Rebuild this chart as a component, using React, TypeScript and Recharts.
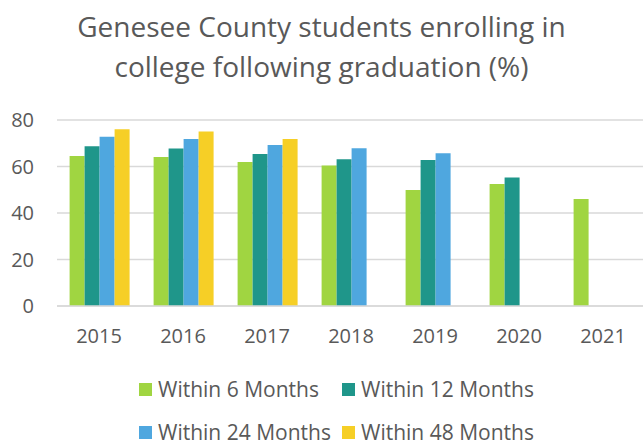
import { BarChart, Bar, XAxis, YAxis, CartesianGrid } from 'recharts'

const years = ['2015', '2016', '2017', '2018', '2019', '2020', '2021']
const within6 = [64.5, 64.1, 61.9, 60.4, 49.9, 52.5, 46.0]
const within12 = [68.7, 67.7, 65.4, 63.1, 62.8, 55.3, null]
const within24 = [72.8, 71.8, 69.2, 67.8, 65.7, null, null]
const within48 = [76.0, 75.1, 71.8, null, null, null, null]
const yTicks = [0, 20, 40, 60, 80]

const SERIES = [
  { key: 'w6', name: 'Within 6 Months', color: '#a0d541' },
  { key: 'w12', name: 'Within 12 Months', color: '#1f968a' },
  { key: 'w24', name: 'Within 24 Months', color: '#4fa7df' },
  { key: 'w48', name: 'Within 48 Months', color: '#f6cf26' },
]

const data = years.map((year, i) => ({
  year,
  w6: within6[i],
  w12: within12[i],
  w24: within24[i],
  w48: within48[i],
}))

const TEXT = '#595959'
const FONT = '"Open Sans", sans-serif'

// 2x2 legend grid, drawn outside the chart so it doesn't eat plot height
function LegendGrid() {
  const spots = [
    { x: 139, y: 0 },
    { x: 342, y: 0 },
    { x: 139, y: 43 },
    { x: 342, y: 43 },
  ]
  return (
    <div style={{ position: 'absolute', left: 0, top: 375, width: 643, height: 70 }}>
      {SERIES.map((s, i) => (
        <div
          key={s.key}
          style={{
            position: 'absolute',
            left: spots[i].x,
            top: spots[i].y,
            display: 'flex',
            alignItems: 'center',
            height: 28,
            lineHeight: '28px',
            fontFamily: FONT,
            fontSize: 21,
            color: TEXT,
            whiteSpace: 'nowrap',
          }}
        >
          <span style={{ width: 13, height: 13, background: s.color, marginRight: 6, display: 'inline-block' }} />
          {s.name}
        </div>
      ))}
    </div>
  )
}

export default function App() {
  return (
    <div style={{ position: 'absolute', left: 0, top: 0, width: 643, height: 447, overflow: 'hidden', background: '#fff' }}>
      <div
        style={{
          position: 'absolute',
          left: 0,
          top: 6,
          width: 643,
          textAlign: 'center',
          fontFamily: FONT,
          fontSize: 28,
          lineHeight: '40px',
          color: TEXT,
        }}
      >
        Genesee County students enrolling in
        <br />
        college following graduation (%)
      </div>
      <BarChart
        width={648}
        height={447}
        data={data}
        margin={{ top: 120, right: 3, bottom: 101, left: 0 }}
        barCategoryGap="15%"
        barGap={0}
      >
        <CartesianGrid vertical={false} stroke="#d9d9d9" strokeWidth={1.5} />
        <XAxis
          dataKey="year"
          height={40}
          tickLine={false}
          axisLine={{ stroke: '#d9d9d9', strokeWidth: 1.5 }}
          tickMargin={17}
          tick={{ fill: TEXT, fontSize: 20, fontFamily: FONT }}
        />
        <YAxis
          width={57}
          domain={[0, 80]}
          ticks={yTicks}
          interval={0}
          tickLine={false}
          axisLine={false}
          tickMargin={17}
          tick={{ fill: TEXT, fontSize: 20, fontFamily: FONT }}
        />
        {SERIES.map((s) => (
          <Bar key={s.key} dataKey={s.key} name={s.name} fill={s.color} isAnimationActive={false} />
        ))}
      </BarChart>
      <LegendGrid />
    </div>
  )
}
